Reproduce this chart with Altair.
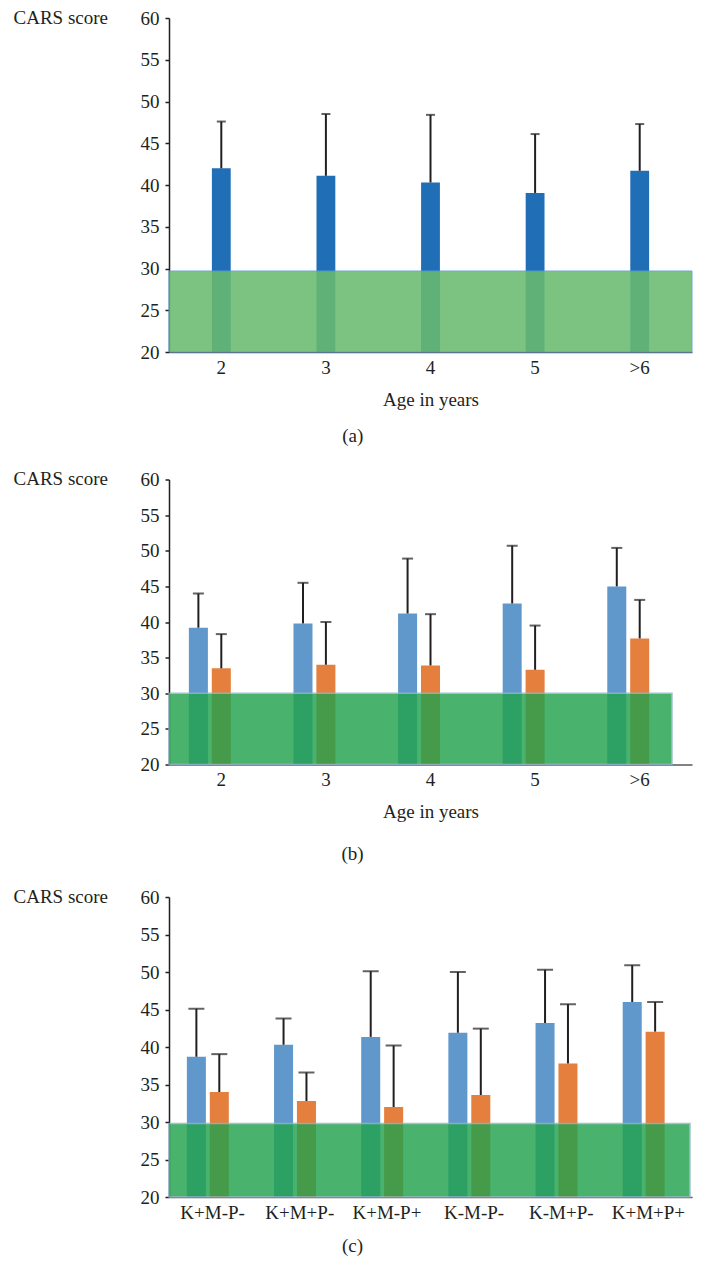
import altair as alt
import pandas as pd

# ---------------- data ----------------
ages = ["2", "3", "4", "5", ">6"]
a_mean = [42.0, 41.1, 40.3, 39.05, 41.7]
a_upper = [47.6, 48.5, 48.4, 46.1, 47.3]

b_blue_mean = [39.2, 39.8, 41.2, 42.6, 45.0]
b_blue_upper = [44.0, 45.5, 48.9, 50.7, 50.4]
b_orange_mean = [33.5, 34.0, 33.9, 33.3, 37.7]
b_orange_upper = [38.3, 40.0, 41.1, 39.5, 43.1]

groups = ["K+M-P-", "K+M+P-", "K+M-P+", "K-M-P-", "K-M+P-", "K+M+P+"]
c_blue_mean = [38.7, 40.3, 41.35, 41.9, 43.2, 46.0]
c_blue_upper = [45.1, 43.8, 50.1, 50.0, 50.3, 50.9]
c_orange_mean = [34.0, 32.8, 32.0, 33.6, 37.8, 42.05]
c_orange_upper = [39.05, 36.6, 40.2, 42.45, 45.7, 46.0]

band_low = 20
band_high = [29.7, 30.0, 29.8]
series = ["Blue", "Orange"]
y_ticks = [20, 25, 30, 35, 40, 45, 50, 55, 60]

FONT = "Liberation Serif"
TXT = "#231F20"
W = 523


def yenc(field):
    return alt.Y(
        field,
        scale=alt.Scale(domain=[20, 60], nice=False, zero=False),
        axis=alt.Axis(
            title="CARS score", values=y_ticks, grid=False,
            titleAngle=0, titleAlign="left", titleBaseline="middle",
            titleX=-156, titleY=-1, titleFontWeight="normal",
            tickSize=4, tickColor=TXT, tickWidth=1.5,
            domainColor=TXT, domainWidth=1.5, labelPadding=6,
        ),
    )


def xenc(cats, title, pin, pout):
    ax = dict(labelAngle=0, ticks=False, labelPadding=6, titlePadding=13,
              domainColor="#595959", domainWidth=1.5, titleFontWeight="normal")
    return alt.X(
        "cat:N", sort=cats,
        scale=alt.Scale(domain=cats, paddingInner=pin, paddingOuter=pout),
        axis=alt.Axis(title=title, **ax),
    )


def caption(txt, off):
    return alt.TitleParams(txt, orient="bottom", anchor="middle", frame="bounds",
                           offset=off, fontSize=19, font=FONT,
                           fontWeight="normal", color=TXT)


# ---------------- panel (a) ----------------
df_a = pd.DataFrame({"cat": ages, "mean": a_mean, "upper": a_upper})
xa = xenc(ages, "Age in years", 0.82, 0.41)
bars_a = alt.Chart(df_a).mark_bar(color="#1F6EB6").encode(
    x=xa, y=yenc("mean:Q"), y2=alt.datum(20))
band_a = alt.Chart(pd.DataFrame({"lo": [band_low], "hi": [band_high[0]]})).mark_rect(
    color="#69BB6F", opacity=0.87, stroke="#5B9BD5", strokeWidth=1
).encode(x=alt.value(0), x2=alt.value(W), y=yenc("lo:Q"), y2="hi:Q")
rule_a = alt.Chart(df_a).mark_rule(color=TXT, strokeWidth=2).encode(
    x=xa, y=yenc("mean:Q"), y2="upper:Q")
cap_a = alt.Chart(df_a).mark_tick(color=TXT, thickness=2, size=9).encode(
    x=xa, y=yenc("upper:Q"))
panel_a = alt.layer(bars_a, band_a, rule_a, cap_a).properties(
    width=W, height=334, title=caption("(a)", 18))


# ---------------- grouped panels ----------------
def grouped(cats, bm, bu, om, ou, hi, height, title, pin, pout, opin, capw, cap_txt, cap_off, band_w):
    rows = []
    for i, c in enumerate(cats):
        rows.append({"cat": c, "series": "Blue", "mean": bm[i], "upper": bu[i]})
        rows.append({"cat": c, "series": "Orange", "mean": om[i], "upper": ou[i]})
    df = pd.DataFrame(rows)
    x = xenc(cats, title, pin, pout)
    xo = alt.XOffset("series:N", scale=alt.Scale(domain=["Blue", "Orange", "_pad"],
                                                 paddingInner=opin, paddingOuter=0))
    col = alt.Color("series:N", scale=alt.Scale(domain=series, range=["#6198CB", "#E57F3D"]),
                    legend=None)
    bars = alt.Chart(df).mark_bar().encode(x=x, xOffset=xo, y=yenc("mean:Q"),
                                           y2=alt.datum(20), color=col)
    band = alt.Chart(pd.DataFrame({"lo": [band_low], "hi": [hi]})).mark_rect(
        color="#22A24E", opacity=0.82, stroke="#8DB3C8", strokeWidth=1.5
    ).encode(x=alt.value(0), x2=alt.value(band_w), y=yenc("lo:Q"), y2="hi:Q")
    rule = alt.Chart(df).mark_rule(color=TXT, strokeWidth=2).encode(
        x=x, xOffset=xo, y=yenc("mean:Q"), y2="upper:Q")
    capm = alt.Chart(df).mark_tick(color=TXT, thickness=2, size=capw).encode(
        x=x, xOffset=xo, y=yenc("upper:Q"))
    return alt.layer(bars, band, rule, capm).properties(
        width=W, height=height, title=caption(cap_txt, cap_off))


panel_b = grouped(ages, b_blue_mean, b_blue_upper, b_orange_mean, b_orange_upper,
                  band_high[1], 285, "Age in years", 0.38, 0.19, 0.17, 11, "(b)", 23, 503)
panel_c = grouped(groups, c_blue_mean, c_blue_upper, c_orange_mean, c_orange_upper,
                  band_high[2], 300, None, 0.41, 0.205, 0.26, 16, "(c)", 15, 521)

chart = alt.vconcat(panel_a, panel_b, panel_c, spacing=23.5).properties(
    padding={"left": 5, "top": 0, "right": 0, "bottom": 0},
    background="white",
).configure_view(stroke=None).configure_axis(
    labelFont=FONT, titleFont=FONT, labelFontSize=19, titleFontSize=19,
    labelColor=TXT, titleColor=TXT
)

chart.save("out.html", embed_options={"renderer": "svg", "actions": False})
